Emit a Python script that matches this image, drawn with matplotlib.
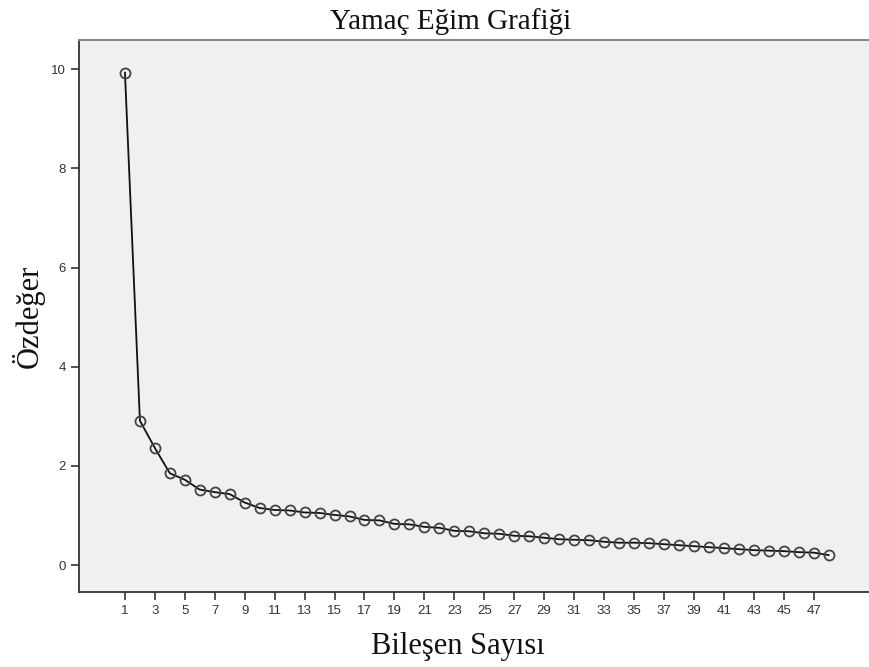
import matplotlib.pyplot as plt
import numpy as np

# scree plot data
components = list(range(1, 49))
eigenvalues = [9.93, 2.91, 2.36, 1.85, 1.72, 1.52, 1.47, 1.43, 1.26, 1.15,
               1.11, 1.10, 1.06, 1.05, 1.01, 0.98, 0.91, 0.90, 0.83, 0.82,
               0.77, 0.75, 0.69, 0.68, 0.64, 0.63, 0.59, 0.58, 0.55, 0.52,
               0.51, 0.50, 0.47, 0.45, 0.45, 0.44, 0.42, 0.40, 0.38, 0.36,
               0.34, 0.32, 0.30, 0.29, 0.28, 0.26, 0.25, 0.20]
x_ticks = list(range(1, 48, 2))
y_ticks = [0, 2, 4, 6, 8, 10]

plt.close("all")
fig = plt.figure(figsize=(8.69, 6.67), dpi=100)
ax = fig.add_axes([0.0909, 0.1124, 0.9091, 0.8276])
ax.set_facecolor('#f0f0f0')

ax.plot(components, eigenvalues, color='#111111', lw=1.3,
        marker='o', markersize=7.2, markerfacecolor='none',
        markeredgecolor='#444444', markeredgewidth=1.3)

ax.set_xlim(-2.07, 50.7)
ax.set_ylim(-0.545, 10.59)
ax.set_xticks(x_ticks)
ax.set_yticks(y_ticks)
ax.tick_params(direction='out', length=6, width=1.2, color='#333333',
               labelsize=9.5, labelcolor='#333333')
for lab in ax.get_xticklabels() + ax.get_yticklabels():
    lab.set_family('Liberation Sans')

for side in ['left', 'bottom']:
    ax.spines[side].set_color('#333333')
    ax.spines[side].set_linewidth(1.3)
ax.spines['top'].set_color('#888888')
ax.spines['top'].set_linewidth(1.5)
ax.spines['right'].set_visible(False)

serif = 'Liberation Serif'
fig.text(0.518, 0.968, 'Yamaç Eğim Grafiği', family=serif, fontsize=21,
         ha='center', va='center', color='#111111')
fig.text(0.527, 0.030, 'Bileşen Sayısı', family=serif, fontsize=22,
         ha='center', va='center', color='#111111')
fig.text(0.032, 0.525, 'Özdeğer', family=serif, fontsize=22, rotation=90,
         ha='center', va='center', color='#111111')

fig.savefig('out.png', dpi=100)
